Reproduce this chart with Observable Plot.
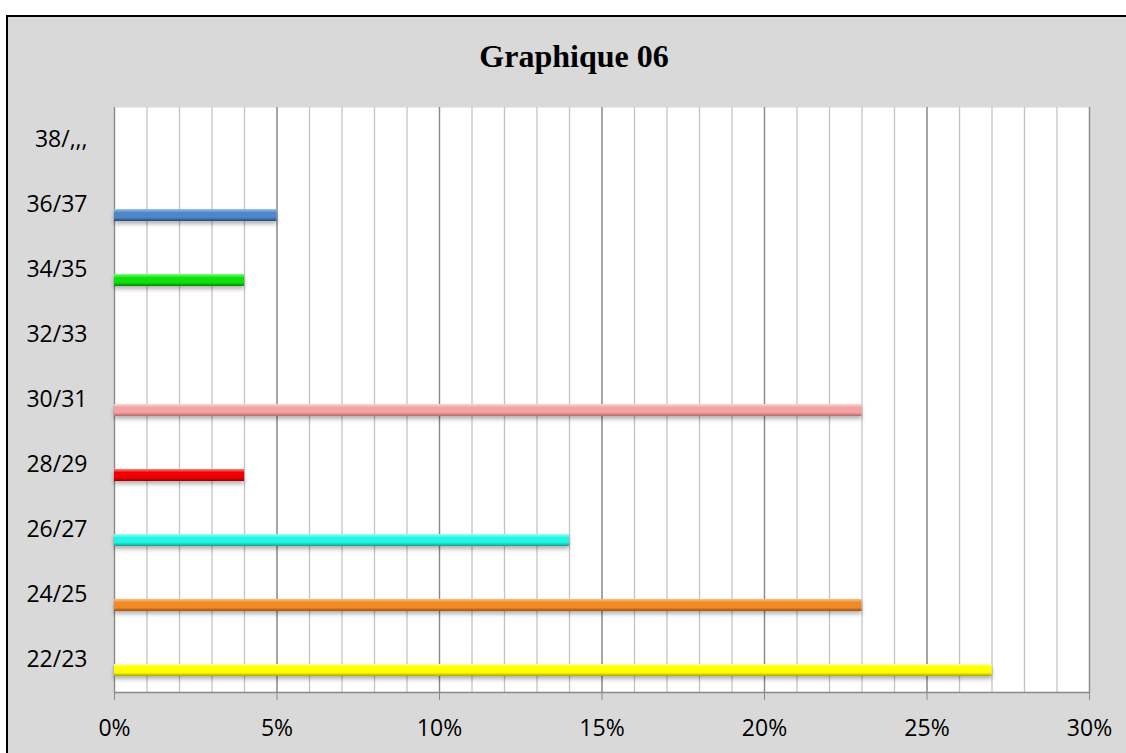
<!DOCTYPE html>
<html><head><meta charset="utf-8">
<script src="https://cdn.jsdelivr.net/npm/d3@7"></script>
<script src="https://cdn.jsdelivr.net/npm/@observablehq/plot@0.6"></script>
<style>
body{margin:0;background:#fff;width:1126px;height:753px;overflow:hidden;position:relative;font-family:"Open Sans",sans-serif}
#frame{position:absolute;left:6px;top:15px;width:1200px;height:800px;background:#d9d9d9;border:2px solid #000}
#title{position:absolute;left:0;top:36px;width:1148px;height:40px;line-height:40px;text-align:center;font-family:"Liberation Serif","Times New Roman",serif;font-weight:bold;font-size:32px;color:#000}
#chart{position:absolute;left:0;top:90px}
</style>
</head><body>
<div id="frame"></div>
<div id="title">Graphique 06</div>
<div id="chart"></div>
<script>
const categories = ["22/23","24/25","26/27","28/29","30/31","32/33","34/35","36/37","38/,,,"];
const values = [27, 23, 14, 4, 23, 0, 4, 5, 0];
const xTicks = [0, 5, 10, 15, 20, 25, 30];
const minorTicks = d3.range(0, 31);
// [light, main, dark] per category
const palette = [
  ["#ffff90", "#ffff00", "#a8a800"],
  ["#ffbd7a", "#f08a28", "#a24e0c"],
  ["#9ffff6", "#22f5e4", "#16a090"],
  ["#ff8080", "#f00000", "#980000"],
  ["#ffd4d4", "#f2a2a2", "#b86868"],
  ["#d0d0d0", "#b0b0b0", "#707070"],
  ["#80ff80", "#10e010", "#008a00"],
  ["#9cc4f0", "#4f86c8", "#264a78"],
  ["#d0d0d0", "#b0b0b0", "#707070"]
];
const data = categories.map((c, i) => ({cat: c, value: values[i], i}));

const chart = Plot.plot({
  width: 1126, height: 663,
  marginLeft: 114, marginRight: 37, marginTop: 17, marginBottom: 61,
  style: {background: "transparent", fontFamily: "'Open Sans', sans-serif", fontSize: "23px", color: "#000"},
  x: {domain: [0, 30], label: null, axis: null},
  y: {domain: [...categories].reverse(), padding: 0, label: null, axis: null},
  color: {type: "identity"},
  marks: [
    Plot.frame({fill: "white", stroke: null}),
    Plot.ruleX(minorTicks, {stroke: "#c4c4c4", strokeWidth: 1.3}),
    Plot.ruleX(xTicks, {stroke: "#8a8a8a", strokeWidth: 1.3}),
    Plot.frame({anchor: "bottom", stroke: "#8a8a8a", strokeWidth: 1.3}),
    Plot.axisX(xTicks, {tickFormat: d => d + "%", tickSize: 8, tickPadding: 19, stroke: "#8a8a8a", fill: "#000", fontSize: 23, label: null}),
    Plot.axisY({tickSize: 0, tickPadding: 27, fill: "#000", fontSize: 23, label: null}),
    Plot.barX(data, {x: "value", y: "cat", fill: d => `url(#g${d.i})`, insetTop: 37, insetBottom: 16})
  ]
});
document.getElementById("chart").appendChild(chart);

const svg = d3.select(chart);
const defs = svg.insert("defs", ":first-child");
palette.forEach((p, i) => {
  const g = defs.append("linearGradient").attr("id", "g" + i).attr("x1", 0).attr("y1", 0).attr("x2", 0).attr("y2", 1);
  g.append("stop").attr("offset", "0%").attr("stop-color", p[0]);
  g.append("stop").attr("offset", "30%").attr("stop-color", p[1]);
  g.append("stop").attr("offset", "70%").attr("stop-color", p[1]);
  g.append("stop").attr("offset", "100%").attr("stop-color", p[2]);
});
const f = defs.append("filter").attr("id", "shadow").attr("x", "-5%").attr("y", "-50%").attr("width", "110%").attr("height", "250%");
f.append("feDropShadow").attr("dx", 0).attr("dy", 3).attr("stdDeviation", 2).attr("flood-color", "#000").attr("flood-opacity", 0.3);
svg.selectAll("g[aria-label=bar] rect").attr("filter", "url(#shadow)");
</script>
</body></html>
